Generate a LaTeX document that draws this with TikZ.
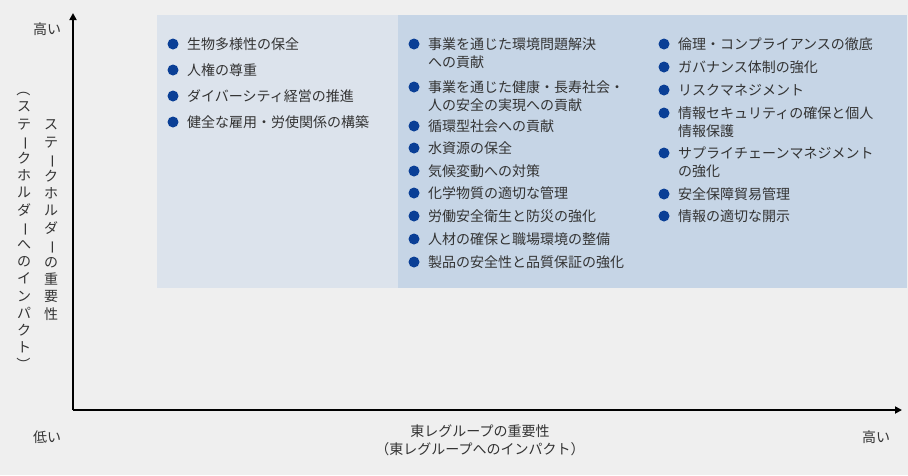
\documentclass[tikz,border=0pt]{standalone}
\usepackage{fontspec}
\setmainfont{Noto Sans CJK JP}
\usetikzlibrary{arrows.meta}
\definecolor{bg}{HTML}{EFEFEF}
\definecolor{pa}{HTML}{DCE3EC}
\definecolor{pb}{HTML}{C6D5E6}
\definecolor{bl}{HTML}{0A3F96}
\definecolor{tx}{HTML}{333333}
\newcommand{\vbar}{\rotatebox[origin=c]{-90}{ー}}
\newcommand{\vpar}[1]{\rotatebox[origin=c]{-90}{#1}}
\begin{document}
\begin{tikzpicture}[x=1pt,y=-1pt,
  itm/.style={anchor=west,text=tx,font=\fontsize{14}{18}\selectfont,inner sep=0pt,align=left},
  lbl/.style={text=tx,font=\fontsize{14}{18}\selectfont,inner sep=0pt,align=center},
  vt/.style={text=tx,font=\fontsize{14}{17.2}\selectfont,inner sep=0pt,align=center}]
\fill[bg] (0,0) rectangle (908,475);
\useasboundingbox (0,0) rectangle (908,475);
\fill[pa] (157,15) rectangle (398,288);
\fill[pb] (398,15) rectangle (907,288);
\coordinate (o) at (73,410);
\coordinate (yt) at (73,13);
\coordinate (xt) at (902,410);
\draw[line width=2pt,-{Triangle[length=7pt,width=7pt]}] (o) -- (yt);
\draw[line width=2pt,-{Triangle[length=7pt,width=7pt]}] (o) -- (xt);
\node[lbl] (yh) at (47,29) {高い};
\node[lbl] (yl) at (47,437) {低い};
\node[lbl] (xh) at (876,437) {高い};
\node[lbl] (xl) at (480,440) {東レグループの重要性\\（東レグループへのインパクト）};
\node[vt] (v1) at (51,220) {ス\\テ\\\vbar\\ク\\ホ\\ル\\ダ\\\vbar\\の\\重\\要\\性};
\node[vt] (v2) at (24,227) {\vpar{（}\\ス\\テ\\\vbar\\ク\\ホ\\ル\\ダ\\\vbar\\へ\\の\\イ\\ン\\パ\\ク\\ト\\\vpar{）}};
\foreach \x/\y/\t [count=\i] in {
 187/44/生物多様性の保全, 187/70/人権の尊重, 187/96/ダイバーシティ経営の推進, 187/122/健全な雇用・労使関係の構築,
 428/44/事業を通じた環境問題解決, 428/87/事業を通じた健康・長寿社会・, 428/126/循環型社会への貢献, 428/148/水資源の保全,
 428/171/気候変動への対策, 428/193/化学物質の適切な管理, 428/216/労働安全衛生と防災の強化, 428/239/人材の確保と職場環境の整備,
 428/262/製品の安全性と品質保証の強化,
 678/44/倫理・コンプライアンスの徹底, 678/67/ガバナンス体制の強化, 678/90/リスクマネジメント, 678/113/情報セキュリティの確保と個人,
 678/153/サプライチェーンマネジメント, 678/194/安全保障貿易管理, 678/216/情報の適切な開示}{
 \fill[bl] (\x-14,\y) circle (5.5);
 \node[itm] (t\i) at (\x,\y) {\t};
}
\node[itm] (c1) at (428,62) {への貢献};
\node[itm] (c2) at (428,105) {人の安全の実現への貢献};
\node[itm] (c3) at (678,131) {情報保護};
\node[itm] (c4) at (678,171) {の強化};
\end{tikzpicture}
\end{document}
